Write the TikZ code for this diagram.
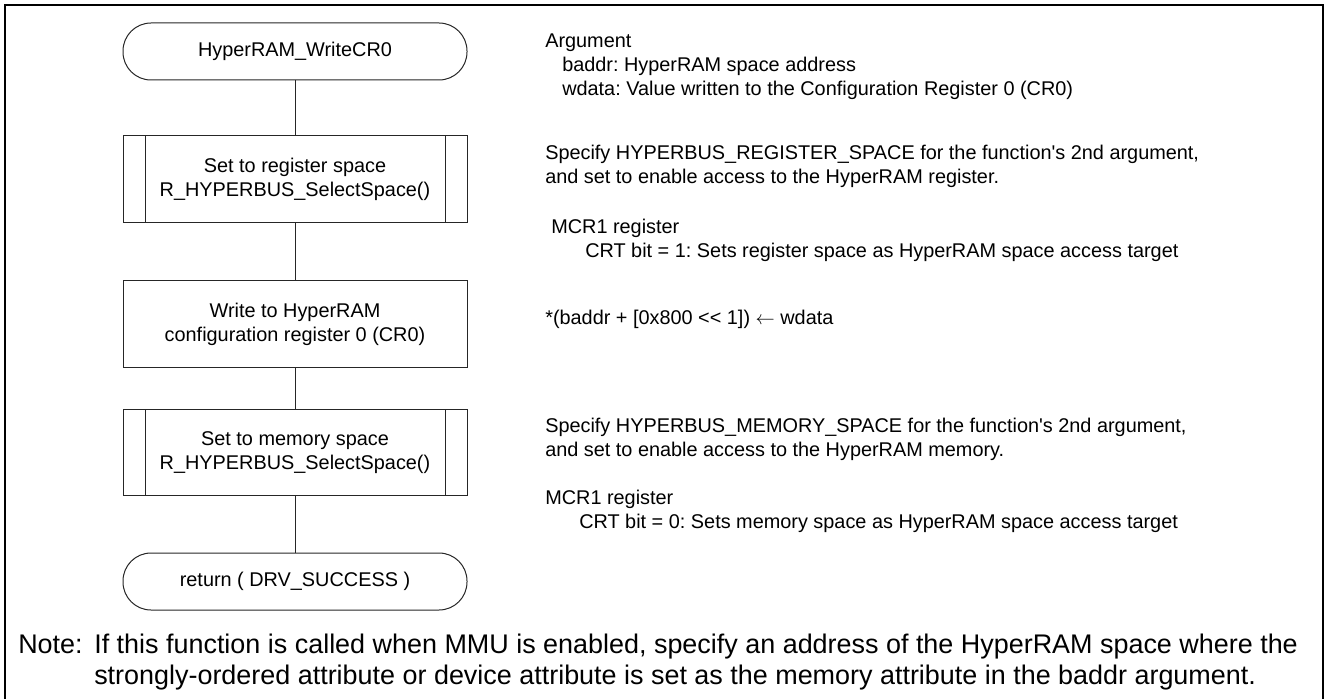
\documentclass[tikz,border=0pt]{standalone}
\usepackage{fontspec}
\setmainfont{Liberation Sans}
\frenchspacing
\newcommand{\flowfont}{\fontsize{14.9pt}{18pt}\selectfont}
\newcommand{\notefont}{\fontsize{20.2pt}{23.25pt}\selectfont}
\begin{document}
\begin{tikzpicture}[x=0.75pt, y=-0.75pt,
    frame/.style ={line width=1.8pt, black},
    flow/.style ={line width=0.75pt, black!85},
    terminal/.style ={draw=black!85, line width=0.75pt, rounded corners=21pt, minimum width=258pt, minimum height=42.75pt, inner sep=0pt, font=\flowfont},
    process/.style ={draw=black!85, line width=0.75pt, rectangle, minimum width=258pt, minimum height=65pt, inner sep=0pt, align=center, font=\flowfont},
    subproc/.style ={process, path picture={
        \draw[flow] ([xshift=16.5pt]path picture bounding box.north west) -- ([xshift=16.5pt]path picture bounding box.south west);
        \draw[flow] ([xshift=-16.5pt]path picture bounding box.north east) -- ([xshift=-16.5pt]path picture bounding box.south east);}},
    remark/.style ={anchor=north west, inner sep=0pt, align=left, font=\flowfont},
    notetext/.style ={anchor=base west, inner sep=0pt, font=\notefont}]
   \useasboundingbox (0,0) rectangle (1328,699);
   \draw[frame] (5,710) -- (5,5) -- (1323,5) -- (1323,710);

   % flow
   \node[terminal] (start) at (295,51.5) {HyperRAM\_WriteCR0};
   \node[subproc]  (regsp) at (295,179)  {Set to register space\\R\_HYPERBUS\_SelectSpace()};
   \node[process]  (wrcr)  at (295,324)  {Write to HyperRAM\\configuration register 0 (CR0)};
   \node[subproc]  (memsp) at (295,452.5) {Set to memory space\\R\_HYPERBUS\_SelectSpace()};
   \node[terminal] (ret)   at (295,581.5) {return ( DRV\_SUCCESS )};

   \draw[flow] (start) to (regsp);
   \draw[flow] (regsp) to (wrcr);
   \draw[flow] (wrcr)  to (memsp);
   \draw[flow] (memsp) to (ret);

   % comments
   \node[remark] (args)  at (545,34)  {Argument\\\hspace*{12.75pt}baddr: HyperRAM space address\\\hspace*{12.75pt}wdata: Value written to the Configuration Register 0 (CR0)};
   \node[remark] (regtx) at (545,145) {Specify HYPERBUS\_REGISTER\_SPACE for the function\textquotesingle s 2nd argument,\\and set to enable access to the HyperRAM register.};
   \node[remark] (crt1)  at (551,219) {MCR1 register\\\hspace*{25.5pt}CRT bit = 1: Sets register space as HyperRAM space access target};
   \node[remark] (wrtx)  at (545,310) {*(baddr + [0x800 \textless\kern0pt\textless\kern0pt{} 1]) $\leftarrow$ wdata};
   \node[remark] (memtx) at (545,418) {Specify HYPERBUS\_MEMORY\_SPACE for the function\textquotesingle s 2nd argument,\\and set to enable access to the HyperRAM memory.};
   \node[remark] (crt0)  at (545,490) {MCR1 register\\\hspace*{25.5pt}CRT bit = 0: Sets memory space as HyperRAM space access target};

   % note
   \node[notetext] (notehd) at (18,653) {Note:};
   \node[notetext] (notea)  at (94,653) {If this function is called when MMU is enabled, specify an address of the HyperRAM space where the};
   \node[notetext] (noteb)  at (94,684) {strongly-ordered attribute or device attribute is set as the memory attribute in the baddr argument.};
\end{tikzpicture}
\end{document}
